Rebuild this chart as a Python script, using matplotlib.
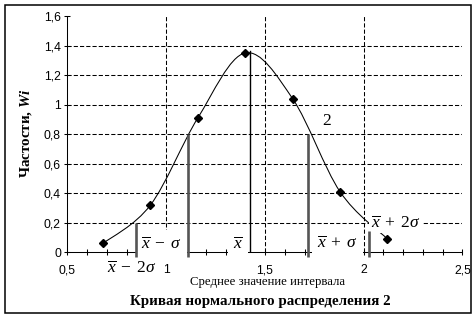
import matplotlib
matplotlib.use('Agg')
import matplotlib.pyplot as plt
from matplotlib.path import Path
from matplotlib.patches import PathPatch, Rectangle
from matplotlib.ticker import MultipleLocator, FixedLocator, FuncFormatter
import numpy as np

plt.rcParams['mathtext.fontset'] = 'custom'
plt.rcParams['mathtext.rm'] = 'Liberation Serif'
plt.rcParams['mathtext.it'] = 'Liberation Serif:italic'
plt.rcParams['mathtext.bf'] = 'Liberation Serif:bold'
plt.rcParams['mathtext.bfit'] = 'Liberation Serif:bold:italic'

# interval midpoints and their frequencies
mid = [0.68, 0.92, 1.16, 1.40, 1.64, 1.88, 2.12]
freq = [0.06, 0.32, 0.91, 1.35, 1.04, 0.41, 0.09]

# vertical lines at mean +- k*sigma (x position, height where they meet the curve)
sig_x = [0.847, 1.111, 1.424, 1.719, 2.027]
sig_h = [0.20, 0.80, 1.363, 0.80, 0.147]
sig_names = [r'$\overline{x}\;-\;2\sigma$', r'$\overline{x}\;-\;\sigma$', r'$\overline{x}$',
             r'$\overline{x}\;+\;\sigma$', r'$\overline{x}\;+\;2\sigma$']
# where the names sit (data coords) and how much white they clear around them
lab_x = [0.827, 0.976, 1.363, 1.867, 2.163]
lab_y = [-0.106, 0.056, 0.063, 0.063, 0.20]
lab_pad = [0, 3.5, 3.5, 3.5, 1.2]

xticks = [0.5, 1.0, 1.5, 2.0, 2.5]
yticks = [0, 0.2, 0.4, 0.6, 0.8, 1.0, 1.2, 1.4, 1.6]

W, H = 477, 319


def fx(px):
    return px / W


def fy(py):
    return (H - py) / H


def smooth_path(xs, ys):
    # excel-like smoothed line: bezier segments with 1/6 tangents
    pts = np.column_stack([xs, ys])
    n = len(pts)
    verts = [pts[0]]
    codes = [Path.MOVETO]
    for i in range(n - 1):
        p0 = pts[i - 1] if i > 0 else pts[i]
        p1 = pts[i]
        p2 = pts[i + 1]
        p3 = pts[i + 2] if i + 2 < n else pts[i + 1]
        verts += [p1 + (p2 - p0) / 6, p2 - (p3 - p1) / 6, p2]
        codes += [Path.CURVE4] * 3
    return Path(verts, codes)


def comma(v, pos):
    s = ('%.1f' % v).rstrip('0').rstrip('.')
    return s.replace('.', ',')


fig = plt.figure(figsize=(W / 100, H / 100), dpi=100)
ax = fig.add_axes([fx(67.5), fy(252.3), (462.5 - 67.5) / W, (252.3 - 16) / H])

ax.set_xlim(0.5, 2.5)
ax.set_ylim(0, 1.6)
for s in ['top', 'right']:
    ax.spines[s].set_visible(False)
for s in ['left', 'bottom']:
    ax.spines[s].set_linewidth(0.75)

ax.xaxis.set_major_locator(FixedLocator(xticks))
ax.xaxis.set_minor_locator(MultipleLocator(0.1))
ax.yaxis.set_major_locator(FixedLocator(yticks))
ax.xaxis.set_major_formatter(FuncFormatter(comma))
ax.yaxis.set_major_formatter(FuncFormatter(comma))
ax.tick_params(which='both', direction='inout', length=4.5, width=0.75, colors='black')
ax.tick_params(axis='x', pad=6.5)
ax.tick_params(axis='y', pad=2.5)
for lab in ax.get_xticklabels() + ax.get_yticklabels():
    lab.set_fontfamily('Liberation Sans')
    lab.set_fontsize(8.8)

# dashed grid
ax.hlines(yticks[1:-1], 0.5, 2.5, colors='black', lw=0.75, linestyles=(0, (4, 2)), zorder=1)
ax.vlines(xticks[1:-1], 0, 1.6, colors='black', lw=0.75, linestyles=(0, (4, 2)), zorder=1)

# smoothed curve + points
ax.add_patch(PathPatch(smooth_path(mid, freq), fill=False, ec='black', lw=0.75, zorder=2))
ax.plot(mid, freq, ls='none', marker='D', ms=4, color='black', zorder=5)

# sigma lines
for i in range(len(sig_x)):
    if i == 2:
        ax.plot([sig_x[i], sig_x[i]], [0, sig_h[i]], color='black', lw=1.0, zorder=4)
    else:
        ax.plot([sig_x[i], sig_x[i]], [-0.03, sig_h[i]], color='#555555', lw=1.9,
                zorder=4, clip_on=False, solid_capstyle='butt')

for i in range(len(sig_names)):
    bb = None
    if lab_pad[i] > 0:
        bb = dict(facecolor='white', edgecolor='none', pad=lab_pad[i])
    ax.text(lab_x[i], lab_y[i], sig_names[i], ha='center', va='center', fontsize=12.5,
            bbox=bb, zorder=3)

ax.text(1.814, 0.889, '2', ha='center', va='center', fontsize=12.5, family='Liberation Serif')

fig.text(fx(26), fy(133.5), r'Частости, $\mathbfit{Wi}$', rotation=90, ha='center', va='center',
         family='Liberation Serif', fontweight='bold', fontsize=10.8)
fig.text(fx(267.5), fy(282), 'Среднее значение интервала', ha='center', va='center',
         family='Liberation Serif', fontsize=9.2)
fig.text(fx(260.3), fy(301), 'Кривая нормального распределения 2', ha='center', va='center',
         family='Liberation Serif', fontweight='bold', fontsize=10.8)

fig.patches.append(Rectangle((fx(5), fy(313)), 466 / W, 308 / H, transform=fig.transFigure,
                             fill=False, ec='black', lw=1.1))

fig.savefig('out.png', dpi=100)
